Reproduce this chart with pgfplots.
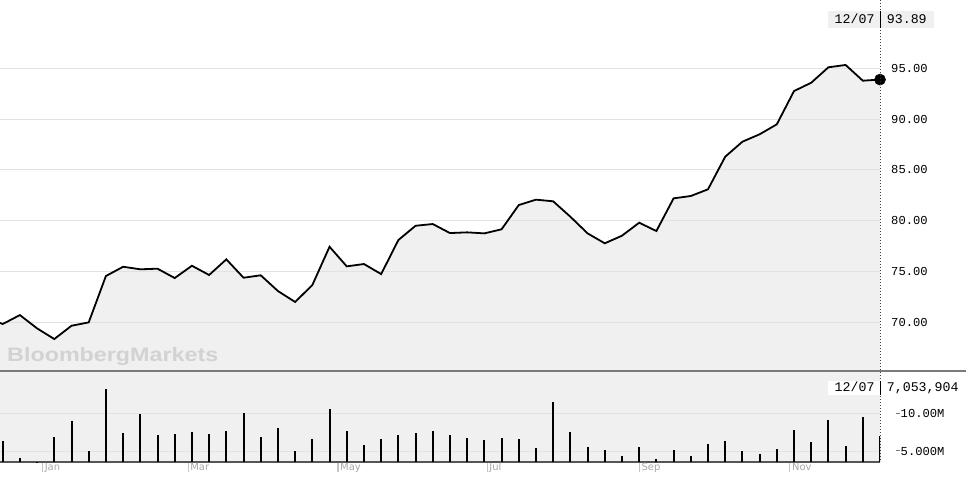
\documentclass[border=0pt]{standalone}
\usepackage{fontspec}
\setmainfont{DejaVu Sans}
\newfontfamily\monofont{Liberation Mono}
\newfontfamily\wmfont{Liberation Sans}
\usepackage{pgfplots}
\pgfplotsset{compat=1.18}
\usepackage{pgfplotstable}
\definecolor{areagray}{HTML}{F0F0F0}
\definecolor{gridgray}{HTML}{E2E2E2}
\definecolor{sepgray}{HTML}{7A7A7A}
\definecolor{basegray}{HTML}{555555}
\definecolor{wmgray}{HTML}{D2D2D2}
\definecolor{monthgray}{HTML}{A8A8A8}
\definecolor{monthtick}{HTML}{C4C4C4}

\pgfplotstableread{
k price
-1 70.50
0 69.81
1 70.69
2 69.38
3 68.33
4 69.64
5 69.97
6 74.54
7 75.45
8 75.20
9 75.26
10 74.34
11 75.55
12 74.64
13 76.18
14 74.37
15 74.61
16 73.06
17 71.98
18 73.65
19 77.42
20 75.49
21 75.72
22 74.73
23 78.08
24 79.49
25 79.66
26 78.77
27 78.84
28 78.74
29 79.14
30 81.53
31 82.06
32 81.90
33 80.38
34 78.74
35 77.76
36 78.51
37 79.79
38 78.97
39 82.19
40 82.42
41 83.08
42 86.29
43 87.77
44 88.50
45 89.48
46 92.76
47 93.58
48 95.10
49 95.33
50 93.78
51 93.89
}\pricetable

\pgfplotstableread{
k vol
0 6.34
1 4.02
2 3.30
3 6.87
4 9.02
5 5.00
6 13.30
7 7.41
8 9.95
9 7.18
10 7.32
11 7.54
12 7.32
13 7.68
14 10.05
15 6.83
16 8.04
17 4.96
18 6.56
19 10.66
20 7.68
21 5.80
22 6.60
23 7.14
24 7.36
25 7.68
26 7.10
27 6.74
28 6.43
29 6.74
30 6.56
31 5.40
32 11.60
33 7.50
34 5.54
35 5.09
36 4.29
37 5.49
38 3.89
39 5.13
40 4.29
41 5.90
42 6.30
43 4.96
44 4.60
45 5.23
46 7.81
47 6.16
48 9.15
49 5.63
50 9.59
51 7.05
}\voltable

\begin{document}
\begin{tikzpicture}[x=1bp,y=1bp]
\useasboundingbox (0,0) rectangle (970,-481);

% price area fill
\begin{axis}[at={(0bp,0bp)}, anchor=north west, scale only axis,
  width=880bp, height=370bp,
  xmin=-0.157, xmax=51, ymin=65.28, ymax=101.73,
  axis lines=none, ticks=none]
\addplot[fill=areagray, draw=none] table[x=k,y=price]{\pricetable} \closedcycle;
\end{axis}

% price line, grid and labels
\begin{axis}[at={(0bp,0bp)}, anchor=north west, scale only axis,
  width=880bp, height=370bp,
  xmin=-0.157, xmax=51, ymin=65.28, ymax=101.73,
  axis line style={draw=none},
  xtick=\empty, ytick={70,75,80,85,90,95},
  ymajorgrids, grid style={gridgray, line width=1bp},
  major tick length=0pt,
  yticklabel pos=right,
  /pgf/number format/assume math mode=true,
  yticklabel={\pgfmathprintnumber[fixed,fixed zerofill,precision=2]{\tick}},
  yticklabel style={font=\monofont\fontsize{12.2}{12}\selectfont, anchor=west, inner sep=0pt, xshift=11bp, text=black}]
\addplot[black, line width=1.8bp, mark=none] table[x=k,y=price]{\pricetable};
\addplot[only marks, mark=*, mark size=5.6bp, black] coordinates {(51,93.89)};
\end{axis}

% volume panel
\begin{axis}[at={(0bp,-372bp)}, anchor=north west, scale only axis,
  width=880bp, height=90bp,
  xmin=-0.157, xmax=51, ymin=3.527, ymax=15.58,
  axis background/.style={fill=areagray},
  axis x line*=bottom, axis y line*=right,
  x axis line style={draw=basegray, line width=1.3bp},
  y axis line style={draw=none},
  xtick={2.32,10.78,19.49,28.16,37.01,45.76},
  xticklabels={Jan,Mar,May,Jul,Sep,Nov},
  x tick style={draw=monthtick, line width=1.2bp},
  y tick style={draw=none},
  tick align=outside, major tick length=10bp,
  xticklabel style={font=\fontsize{10}{10}\selectfont, text=monthgray, anchor=north west, inner sep=0pt, xshift=2bp, yshift=9bp},
  ytick={5,10},
  yticklabels={{\textcolor{sepgray}{\rule[0.3em]{3.5bp}{1bp}}\hspace{1bp}5.000M},{\textcolor{sepgray}{\rule[0.3em]{3.5bp}{1bp}}\hspace{1bp}10.00M}},
  yticklabel style={font=\monofont\fontsize{12.2}{12}\selectfont, anchor=west, inner sep=0pt, xshift=6bp, text=black},
  ymajorgrids, grid style={gridgray, line width=1bp}]
\addplot[ycomb, black, line width=2bp, mark=none] table[x=k,y=vol]{\voltable};
\end{axis}

% separator
\draw[sepgray, line width=2.4bp] (0,-371) -- (966,-371);
% cursor line
\draw[black!75, line width=1bp, dash pattern=on 1bp off 2bp] (880,0) -- (880,-462);

% watermark
\node[anchor=base west, inner sep=0pt, text=wmgray, font=\wmfont\bfseries\fontsize{19.5}{20}\selectfont] at (7,-361.7) {\scalebox{1.2}[1]{BloombergMarkets}};

% price readout box
\fill[areagray] (827.7,-11) rectangle (934,-28);
\draw[black, line width=1bp] (880,-11) -- (880,-28);
\node[anchor=base west, inner sep=0pt, font=\monofont\fontsize{13.3}{13}\selectfont] at (834.5,-23.3) {12/07};
\node[anchor=base west, inner sep=0pt, font=\monofont\fontsize{13.3}{13}\selectfont] at (886.7,-23.3) {93.89};

% volume readout box
\fill[white] (827.7,-380.5) rectangle (962.7,-394.5);
\draw[black, line width=1bp] (880,-380.5) -- (880,-394.5);
\node[anchor=base west, inner sep=0pt, font=\monofont\fontsize{13.3}{13}\selectfont] at (834.5,-391.7) {12/07};
\node[anchor=base west, inner sep=0pt, font=\monofont\fontsize{13.3}{13}\selectfont] at (886.7,-391.7) {7,053,904};
\end{tikzpicture}
\end{document}
